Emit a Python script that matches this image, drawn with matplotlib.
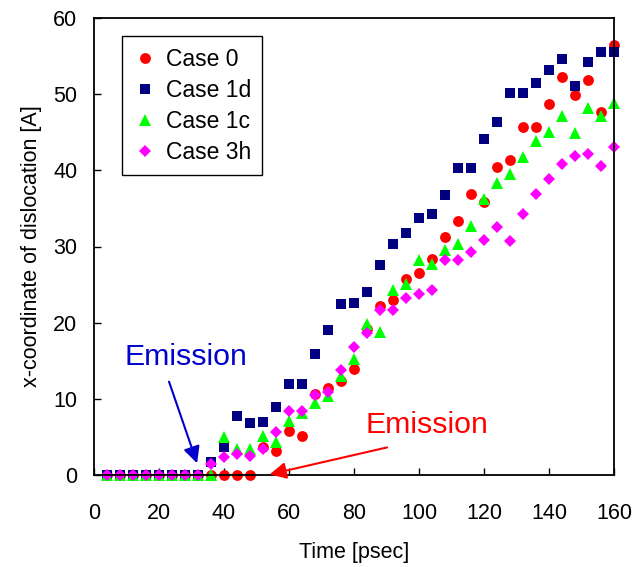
import numpy as np
import matplotlib
matplotlib.use('Agg')
import matplotlib.pyplot as plt

plt.rcParams['font.family'] = ['Liberation Sans', 'DejaVu Sans']

# tiempo en psec (cada 4 psec)
time = np.arange(4, 161, 4)

case0 = [0, 0, 0, 0, 0, 0, 0, 0, 0, 0, 0, 0,
         3.7, 3.1, 5.8, 5.1, 10.7, 11.4, 12.4, 13.9, 19.2, 22.2, 23.0, 25.7,
         26.5, 28.3, 31.2, 33.3, 36.9, 35.8, 40.4, 41.4, 45.7, 45.7, 48.7, 52.2,
         49.9, 51.8, 47.6, 56.5]
case1d = [0, 0, 0, 0, 0, 0, 0, 0,
          1.7, 3.7, 7.7, 6.8, 7.0, 8.9, 12.0, 12.0, 15.9, 19.0, 22.4, 22.6,
          24.0, 27.6, 30.3, 31.8, 33.7, 34.3, 36.7, 40.3, 40.3, 44.1, 46.4, 50.2,
          50.2, 51.5, 53.2, 54.6, 51.1, 54.2, 55.6, 55.6]
case1c = [0, 0, 0, 0, 0, 0, 0, 0, 0,
          5.0, 3.4, 3.4, 5.1, 4.3, 7.1, 8.1, 9.4, 10.4, 13.0, 15.2, 19.8,
          18.8, 24.3, 25.1, 28.2, 27.7, 29.6, 30.3, 32.7, 36.2, 38.3, 39.5, 41.7,
          43.8, 45.0, 47.1, 44.9, 48.2, 47.1, 48.8]
case3h = [0, 0, 0, 0, 0, 0, 0, 0,
          1.4, 2.4, 2.7, 2.5, 3.4, 5.7, 8.4, 8.4, 10.5, 10.9, 13.8, 16.8,
          18.6, 21.6, 21.6, 23.2, 23.7, 24.3, 28.2, 28.2, 29.3, 30.8, 32.6, 30.7,
          34.3, 36.9, 38.8, 40.8, 41.9, 42.2, 40.6, 43.0]

fig = plt.figure(figsize=(6.33, 5.67), dpi=100)
ax = fig.add_axes([94 / 633, 1 - 475 / 567, 520 / 633, 457 / 567])

ax.plot(time, case0, 'o', color='#FF0000', ms=7.8, mew=0, label='Case 0', clip_on=False)
ax.plot(time, case1d, 's', color='#000080', ms=7.5, mew=0, label='Case 1d', clip_on=False)
ax.plot(time, case1c, '^', color='#00FF00', ms=8.8, mew=0, label='Case 1c', clip_on=False)
ax.plot(time, case3h, 'D', color='#FF00FF', ms=6.4, mew=0, label='Case 3h', clip_on=False)

ax.set_xlim(0, 160)
ax.set_ylim(0, 60)
ax.set_xticks(range(0, 161, 20))
ax.set_yticks(range(0, 61, 10))
ax.tick_params(direction='in', length=5, width=1, labelsize=15.5)
ax.tick_params(axis='x', pad=20)
ax.tick_params(axis='y', pad=12)
for s in ax.spines.values():
    s.set_linewidth(1.3)

ax.set_xlabel('Time [psec]', fontsize=15.5, labelpad=13)
ax.set_ylabel('x-coordinate of dislocation [A]', fontsize=15.5, labelpad=8)

leg = ax.legend(loc='upper left', bbox_to_anchor=(0.054, 0.96), borderaxespad=0,
                fontsize=16.5, handlelength=1.0, handletextpad=0.4, labelspacing=0.35,
                borderpad=0.5, fancybox=False, framealpha=1, edgecolor='black',
                numpoints=1)
leg.get_frame().set_linewidth(1)

# flechas de emision
ax.annotate('', xy=(32, 1.2), xytext=(22.8, 12.6),
            arrowprops=dict(arrowstyle='-|>', color='#0000CC', lw=1.5, mutation_scale=25))
ax.text(9.5, 14.4, 'Emission', color='#0000CC', fontsize=21.8)
ax.annotate('', xy=(53.2, 0), xytext=(91, 3.7), annotation_clip=False,
            arrowprops=dict(arrowstyle='-|>', color='#FF0000', lw=1.5, mutation_scale=25))
ax.text(83.4, 5.5, 'Emission', color='#FF0000', fontsize=21.8)

fig.savefig('out.png', dpi=100)
